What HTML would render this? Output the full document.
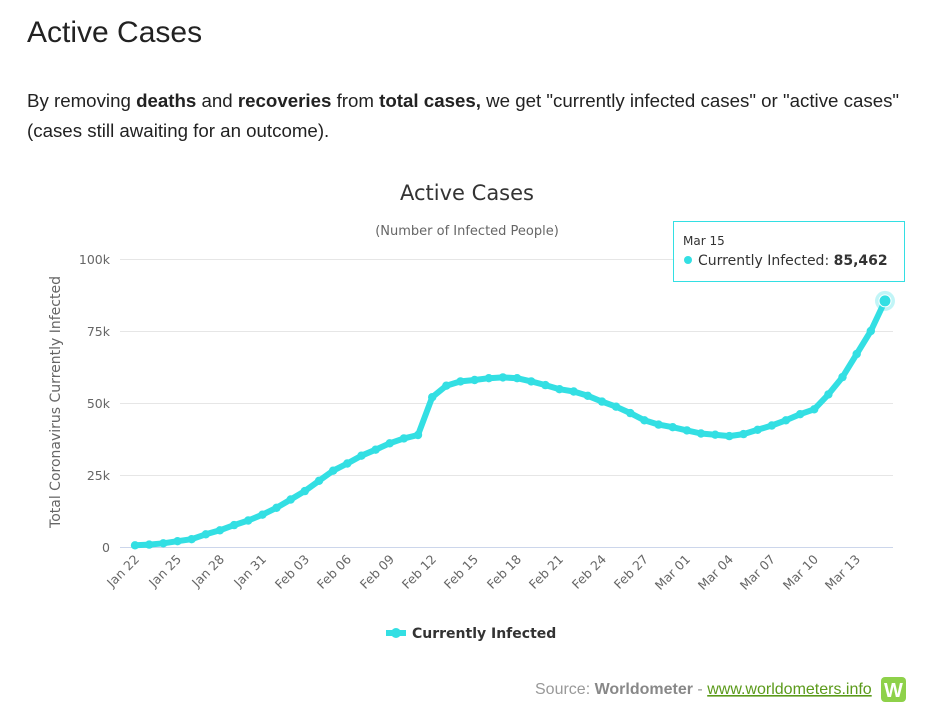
<!DOCTYPE html>
<html><head><meta charset="utf-8"><style>
body{margin:0;background:#fff;width:937px;height:720px;overflow:hidden;font-family:"Liberation Sans",sans-serif}
svg{position:absolute;left:0;top:0}
</style></head><body>
<svg width="937" height="720" viewBox="0 0 937 720">
<defs><marker id="dot" markerUnits="userSpaceOnUse" markerWidth="10" markerHeight="10" refX="5" refY="5" viewBox="0 0 10 10"><circle cx="5" cy="5" r="4.2" fill="#33dfe3"/></marker></defs>
<text x="27" y="42" font-size="30" fill="#222" font-family="Liberation Sans">Active Cases</text>
<text x="27" y="107" font-size="18.7" fill="#222" font-family="Liberation Sans">By removing <tspan font-weight="bold">deaths</tspan> and <tspan font-weight="bold">recoveries</tspan> from <tspan font-weight="bold">total cases,</tspan> we get "currently infected cases" or "active cases"</text>
<text x="27" y="137" font-size="18.7" fill="#222" font-family="Liberation Sans">(cases still awaiting for an outcome).</text>
<g font-family="DejaVu Sans">
<text x="467" y="200" font-size="21" fill="#333" text-anchor="middle">Active Cases</text>
<text x="467" y="235" font-size="13" fill="#666" text-anchor="middle">(Number of Infected People)</text>
<g stroke="#e6e6e6" stroke-width="1">
<line x1="120" x2="893" y1="259.5" y2="259.5"/><line x1="120" x2="893" y1="331.5" y2="331.5"/>
<line x1="120" x2="893" y1="403.5" y2="403.5"/><line x1="120" x2="893" y1="475.5" y2="475.5"/>
</g>
<line x1="120" x2="893" y1="547.5" y2="547.5" stroke="#ccd6eb"/>
<g font-size="12.5" fill="#666" text-anchor="end">
<text x="110" y="264">100k</text><text x="110" y="336">75k</text><text x="110" y="408">50k</text><text x="110" y="480">25k</text><text x="110" y="552">0</text>
</g>
<text transform="translate(60,402) rotate(-90)" font-size="14" fill="#666" text-anchor="middle">Total Coronavirus Currently Infected</text>
<g font-size="12.5" fill="#666" text-anchor="end">
<text transform="translate(140,560) rotate(-45)">Jan 22</text>
<text transform="translate(182,560) rotate(-45)">Jan 25</text>
<text transform="translate(225,560) rotate(-45)">Jan 28</text>
<text transform="translate(267,560) rotate(-45)">Jan 31</text>
<text transform="translate(310,560) rotate(-45)">Feb 03</text>
<text transform="translate(352,560) rotate(-45)">Feb 06</text>
<text transform="translate(395,560) rotate(-45)">Feb 09</text>
<text transform="translate(437,560) rotate(-45)">Feb 12</text>
<text transform="translate(479,560) rotate(-45)">Feb 15</text>
<text transform="translate(522,560) rotate(-45)">Feb 18</text>
<text transform="translate(564,560) rotate(-45)">Feb 21</text>
<text transform="translate(607,560) rotate(-45)">Feb 24</text>
<text transform="translate(649,560) rotate(-45)">Feb 27</text>
<text transform="translate(691,560) rotate(-45)">Mar 01</text>
<text transform="translate(734,560) rotate(-45)">Mar 04</text>
<text transform="translate(776,560) rotate(-45)">Mar 07</text>
<text transform="translate(819,560) rotate(-45)">Mar 10</text>
<text transform="translate(861,560) rotate(-45)">Mar 13</text>
</g>
<polyline fill="none" stroke="#33dfe3" stroke-width="6" stroke-linejoin="round" stroke-linecap="round" marker-start="url(#dot)" marker-mid="url(#dot)" points="135,545.3 149.2,544.6 163.3,543.3 177.5,541.2 191.6,539.2 205.8,534.3 219.9,530.3 234.1,525.1 248.2,520.5 262.4,514.7 276.5,507.8 290.7,499.5 304.8,491.1 319,480.8 333.1,470.7 347.3,463.5 361.4,455.7 375.6,449.7 389.7,443.3 403.9,438.4 418,435 432.2,397.2 446.3,385.7 460.5,381.4 474.6,380 488.8,378.2 502.9,377.4 517.1,378.2 531.2,381.4 545.4,385.1 559.5,389.2 573.7,391.5 587.8,395.8 602,401.6 616.1,406.7 630.3,413.1 644.4,420.3 658.6,424.6 672.7,427.2 686.9,430.4 701,433.5 715.2,434.7 729.3,436.1 743.5,434.1 757.6,429.8 771.8,425.5 785.9,420.3 800.1,414.2 814.2,409.3 828.4,394.4 842.5,377.1 856.7,354 870.8,331 885,300.9"/>
<circle cx="885" cy="300.9" r="10" fill="#33dfe3" opacity="0.3"/>
<circle cx="885" cy="300.9" r="6" fill="#33dfe3" stroke="#fff" stroke-width="1"/>
<rect x="673.5" y="221.5" width="231" height="60" fill="#fff" fill-opacity="0.95" stroke="#33dfe3"/>
<text x="683" y="245" font-size="12" fill="#333">Mar 15</text>
<circle cx="688" cy="260" r="4" fill="#33dfe3"/>
<text x="698" y="265" font-size="14" fill="#333">Currently Infected: <tspan font-weight="bold">85,462</tspan></text>
<line x1="386" x2="406" y1="633" y2="633" stroke="#33dfe3" stroke-width="6"/>
<circle cx="396" cy="633" r="5" fill="#33dfe3"/>
<text x="412" y="638" font-size="14" font-weight="bold" fill="#333">Currently Infected</text>
</g>
<text x="535" y="694" font-size="16" fill="#999" font-family="Liberation Sans">Source: <tspan font-weight="bold" fill="#888">Worldometer</tspan> - <tspan fill="#5b9a1a" text-decoration="underline">www.worldometers.info</tspan></text>
<rect x="881" y="677" width="25" height="25" rx="4" fill="#8ed14a"/>
<text x="893.5" y="697" font-size="20" font-weight="bold" fill="#fff" text-anchor="middle" font-family="Liberation Sans">W</text>
</svg>
</body></html>
